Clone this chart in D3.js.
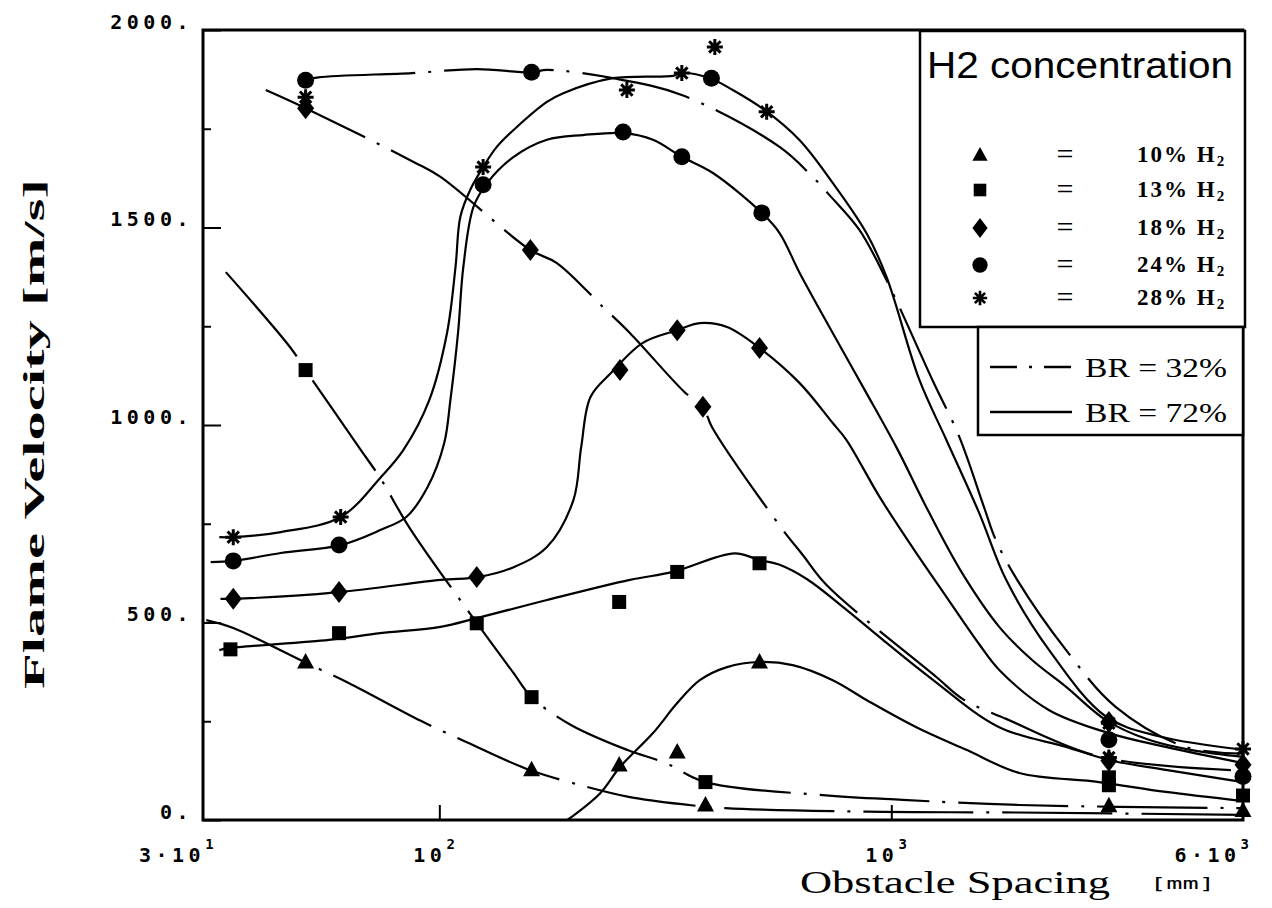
<!DOCTYPE html>
<html>
<head>
<meta charset="utf-8">
<script src="https://cdnjs.cloudflare.com/ajax/libs/d3/7.8.5/d3.min.js"></script>
<style>
  body { margin: 0; background: #fff; }
  svg { display: block; }
</style>
</head>
<body>
<svg width="1272" height="908"></svg>
<script>
// axis setup
const xDomain = [30, 6000];
const yDomain = [0, 2000];
const yMajorTicks = [0, 500, 1000, 1500, 2000];
const yMinorTicks = [250, 750, 1250, 1750];
const xTicks = [30, 100, 1000, 6000];
const xTickMant = ["3·10", "10", "10", "6·10"];
const xTickExp = ["1", "2", "3", "3"];

const h2Labels = ["10%", "13%", "18%", "24%", "28%"];
const brLabels = ["BR = 32%", "BR = 72%"];

// measured points [spacing mm, velocity m/s]
const tri10 = [[50.6, 400], [160, 127], [250, 139], [336, 172], [388, 38], [511, 400], [3030, 36], [6000, 24]];
const sq13 = [[34.5, 432], [50.6, 1139], [60, 473], [121, 498], [160, 311], [250, 552], [336, 628], [388, 96], [511, 650], [3030, 108], [3030, 88], [6000, 62]];
const dia18 = [[35, 560], [50.6, 1802], [60, 577], [121, 615], [159, 1443], [251, 1139], [336, 1240], [383, 1046], [511, 1195], [3030, 248], [3030, 150], [6000, 140]];
const circ24 = [[35, 656], [50.6, 1873], [60, 696], [125, 1608], [160, 1893], [255, 1742], [344, 1679], [400, 1878], [517, 1537], [3030, 203], [6000, 110]];
const star28 = [[35, 716], [50.6, 1830], [60.5, 767], [125, 1653], [260, 1848], [344, 1891], [407, 1957], [530, 1793], [3030, 245], [3030, 158], [6000, 180]];

// fitted curves, BR = 32% (dash-dot)
const c10_32 = [[30.5, 506], [35, 486], [50.9, 397], [63, 347], [91, 251], [115, 197], [158, 127], [212, 84], [264, 58], [344, 40], [430, 30], [882, 21], [1880, 19], [6000, 13]];
const c13_32 = [[33.7, 1387], [46.9, 1195], [50.6, 1139], [67, 937], [74, 866], [86, 739], [121, 499], [146, 372], [160, 311], [196, 240], [261, 177], [317, 144], [388, 96], [706, 63], [1060, 51], [1920, 38], [6000, 30]];
const c18_32 = [[41.3, 1848], [50.6, 1802], [87.7, 1666], [100.6, 1628], [159, 1443], [182, 1410], [230, 1299], [264, 1233], [349, 1083], [383, 1046], [401, 995], [569, 742], [637, 671], [719, 595], [1258, 362], [1440, 306], [1795, 256], [2900, 160], [6000, 125]];
const c24_32 = [[50.6, 1873], [54, 1880], [87, 1891], [121, 1901], [160, 1893], [173, 1899], [242, 1878], [345, 1835], [566, 1704], [670, 1628], [730, 1582], [850, 1494], [976, 1367], [1233, 1114], [1414, 970], [1606, 790], [1700, 711], [1899, 608], [2437, 430], [3140, 286], [4480, 185], [6000, 168]];

// fitted curves, BR = 72% (solid)
const c10_72 = [[192, 0], [227, 68], [251, 134], [297, 220], [336, 296], [377, 354], [433, 387], [511, 400], [605, 392], [742, 354], [881, 304], [1136, 235], [1471, 177], [1920, 119], [2881, 96], [4048, 71], [6000, 48]];
const c13_72 = [[32.6, 430], [34.2, 435], [57, 456], [74, 473], [100.6, 489], [121, 511], [173, 557], [264, 608], [329, 628], [450, 675], [511, 658], [566, 646], [650, 610], [796, 532], [942, 463], [1214, 362], [1733, 235], [2437, 185], [3030, 152], [4048, 127], [6000, 96]];
const c18_72 = [[32.8, 560], [35, 560], [60, 577], [100.6, 608], [122, 615], [146, 640], [173, 691], [198, 810], [206, 944], [216, 1071], [240, 1132], [282, 1208], [336, 1240], [377, 1258], [433, 1248], [511, 1195], [627, 1106], [742, 1005], [796, 962], [942, 818], [1113, 691], [1324, 565], [1565, 445], [1733, 380], [2235, 278], [3030, 220], [4048, 185], [6000, 144]];
const c24_72 = [[31.2, 653], [35, 656], [44.6, 676], [60.5, 696], [74, 734], [84.5, 767], [94.2, 843], [102.5, 954], [105.8, 1063], [110, 1233], [113, 1400], [119, 1552], [127.7, 1613], [145.8, 1678], [173, 1722], [208, 1734], [257, 1739], [297, 1722], [344, 1679], [403, 1638], [517, 1537], [566, 1486], [627, 1385], [742, 1233], [873, 1089], [1026, 944], [1214, 777], [1435, 625], [1733, 489], [2049, 405], [2437, 337], [2985, 253], [3714, 203], [4620, 177], [6000, 160]];
const c28_72 = [[32.6, 716], [35, 716], [44.6, 729], [60.5, 767], [74, 866], [83.3, 937], [95, 1063], [104, 1233], [108.6, 1400], [111.3, 1527], [117, 1595], [125, 1653], [134, 1704], [146, 1747], [173, 1818], [188, 1840], [242, 1878], [329, 1884], [344, 1891], [397, 1878], [446, 1848], [525, 1797], [627, 1721], [742, 1613], [881, 1486], [976, 1375], [1154, 1114], [1324, 962], [1565, 777], [1795, 608], [2235, 430], [2985, 262], [3909, 212], [6000, 178]];

const series = [
  { label: h2Labels[0], shape: "triangle", points: tri10, br32: c10_32, br72: c10_72 },
  { label: h2Labels[1], shape: "square", points: sq13, br32: c13_32, br72: c13_72 },
  { label: h2Labels[2], shape: "diamond", points: dia18, br32: c18_32, br72: c18_72 },
  { label: h2Labels[3], shape: "circle", points: circ24, br32: c24_32, br72: c24_72 },
  { label: h2Labels[4], shape: "star", points: star28, br32: null, br72: c28_72 }
];

const svg = d3.select("svg");
const plotLeft = 203, plotRight = 1243, plotTop = 30, plotBottom = 820;

const x = d3.scaleLog().domain(xDomain).range([plotLeft, plotRight]);
const y = d3.scaleLinear().domain(yDomain).range([plotBottom, plotTop]);

const monoFont = "'DejaVu Sans Mono', monospace";
const serifFont = "'Liberation Serif', 'DejaVu Serif', serif";

// y axis ticks (inside)
const yAxis = svg.append("g")
  .attr("transform", `translate(${plotLeft},0)`)
  .call(d3.axisLeft(y).tickValues(yMajorTicks).tickSize(-18).tickFormat(d => d + "."));
yAxis.select(".domain").remove();
yAxis.selectAll("line").attr("stroke", "#000").attr("stroke-width", 2);
yAxis.selectAll("text")
  .attr("x", -10).attr("dy", null).attr("y", -2)
  .attr("fill", "#000")
  .style("font-family", monoFont).style("font-size", "20px").style("font-weight", "bold")
  .style("letter-spacing", "4.5px");

const yMinor = svg.append("g")
  .attr("transform", `translate(${plotLeft},0)`)
  .call(d3.axisLeft(y).tickValues(yMinorTicks).tickSize(-8).tickFormat(""));
yMinor.select(".domain").remove();
yMinor.selectAll("line").attr("stroke", "#000").attr("stroke-width", 2);

// x axis ticks
const xAxis = svg.append("g")
  .attr("transform", `translate(0,${plotBottom})`)
  .call(d3.axisBottom(x).tickValues([100, 1000]).tickSize(-15).tickFormat(""));
xAxis.select(".domain").remove();
xAxis.selectAll("line").attr("stroke", "#000").attr("stroke-width", 2);

const xLabelOffset = [-64, -26, -26, 6];
const xLabelAnchor = ["start", "start", "start", "end"];
xTicks.forEach((t, i) => {
  const txt = svg.append("text")
    .attr("x", x(t) + xLabelOffset[i]).attr("y", 862)
    .attr("text-anchor", xLabelAnchor[i])
    .style("font-family", monoFont).style("font-size", "20px").style("font-weight", "bold");
  txt.append("tspan").text(xTickMant[i]).style("letter-spacing", "4.5px");
  txt.append("tspan").text(xTickExp[i]).attr("dy", -13).style("font-size", "14px");
});

// curves
const line = d3.line()
  .x(d => x(d[0]))
  .y(d => y(d[1]))
  .curve(d3.curveCatmullRom.alpha(0.5));

series.forEach(s => {
  if (s.br32) {
    svg.append("path").datum(s.br32)
      .attr("d", line).attr("fill", "none")
      .attr("stroke", "#000").attr("stroke-width", 2.2)
      .attr("stroke-dasharray", "110,13,3,13");
  }
  svg.append("path").datum(s.br72)
    .attr("d", line).attr("fill", "none")
    .attr("stroke", "#000").attr("stroke-width", 2.2);
});

// markers
function drawMarker(g, shape, k) {
  if (shape === "triangle") {
    g.append("path").attr("d", `M0,${-9 * k}L${8.5 * k},${6.5 * k}H${-8.5 * k}Z`).attr("fill", "#000");
  } else if (shape === "square") {
    g.append("rect").attr("x", -7 * k).attr("y", -7 * k).attr("width", 14 * k).attr("height", 14 * k).attr("fill", "#000");
  } else if (shape === "diamond") {
    g.append("path").attr("d", `M0,${-11 * k}L${8.5 * k},0L0,${11 * k}L${-8.5 * k},0Z`).attr("fill", "#000");
  } else if (shape === "circle") {
    g.append("circle").attr("r", 8.5 * k).attr("fill", "#000");
  } else if (shape === "star") {
    const a = 8 * k, b = 5.7 * k;
    g.append("path")
      .attr("d", `M0,${-a}V${a}M${-a},0H${a}M${-b},${-b}L${b},${b}M${-b},${b}L${b},${-b}`)
      .attr("stroke", "#000").attr("stroke-width", 3 * k).attr("fill", "none");
    g.append("circle").attr("r", 3.5 * k).attr("fill", "#000");
  }
}

series.forEach(s => {
  s.points.forEach(p => {
    const g = svg.append("g").attr("transform", `translate(${x(p[0])},${y(p[1])})`);
    drawMarker(g, s.shape, 1);
  });
});

// frame
svg.append("rect")
  .attr("x", plotLeft).attr("y", plotTop)
  .attr("width", plotRight - plotLeft).attr("height", plotBottom - plotTop)
  .attr("fill", "none").attr("stroke", "#000").attr("stroke-width", 3);

// legend: H2 concentration
const lg = svg.append("g");
lg.append("rect").attr("x", 920).attr("y", 31).attr("width", 325).attr("height", 296)
  .attr("fill", "#fff").attr("stroke", "#000").attr("stroke-width", 2.5);
lg.append("text").attr("x", 927).attr("y", 78)
  .attr("textLength", 306).attr("lengthAdjust", "spacingAndGlyphs")
  .style("font-family", "'Liberation Sans', Arial, sans-serif").style("font-size", "37px")
  .text("H2 concentration");

const rowY = [155, 190, 228, 265, 298];
series.forEach((s, i) => {
  const g = lg.append("g").attr("transform", `translate(980,${rowY[i]})`);
  drawMarker(g, s.shape, 0.9);
  lg.append("text").attr("x", 1065).attr("y", rowY[i] + 9)
    .attr("text-anchor", "middle")
    .style("font-family", serifFont).style("font-size", "30px")
    .text("=");
  const t = lg.append("text").attr("x", 1137).attr("y", rowY[i] + 7)
    .style("font-family", serifFont).style("font-size", "23px").style("font-weight", "bold")
    .style("letter-spacing", "2px");
  t.append("tspan").text(s.label + " H");
  t.append("tspan").text("2").attr("dy", 4).style("font-size", "15px");
});

// legend: blockage ratio
lg.append("rect").attr("x", 978).attr("y", 327).attr("width", 265).attr("height", 108)
  .attr("fill", "#fff").attr("stroke", "#000").attr("stroke-width", 2.5);
const brY = [367, 412];
const brDash = ["27,12,3,12", null];
brLabels.forEach((b, i) => {
  lg.append("line").attr("x1", 990).attr("x2", 1072).attr("y1", brY[i]).attr("y2", brY[i])
    .attr("stroke", "#000").attr("stroke-width", 2.5)
    .attr("stroke-dasharray", brDash[i]);
  lg.append("text").attr("x", 1085).attr("y", brY[i] + 10)
    .attr("textLength", 142).attr("lengthAdjust", "spacingAndGlyphs")
    .style("font-family", serifFont).style("font-size", "28px")
    .text(b);
});

// axis titles
svg.append("text")
  .attr("transform", "translate(44,434) rotate(-90)")
  .attr("text-anchor", "middle")
  .attr("textLength", 510).attr("lengthAdjust", "spacingAndGlyphs")
  .style("font-family", serifFont).style("font-size", "29px").style("font-weight", "bold")
  .text("Flame Velocity [m/s]");

svg.append("text")
  .attr("x", 800).attr("y", 893)
  .attr("textLength", 310).attr("lengthAdjust", "spacingAndGlyphs")
  .style("font-family", serifFont).style("font-size", "31px")
  .text("Obstacle Spacing");

svg.append("text")
  .attr("x", 1150).attr("y", 889)
  .attr("textLength", 65).attr("lengthAdjust", "spacingAndGlyphs")
  .style("font-family", monoFont).style("font-size", "15px")
  .text("[mm]");
</script>
</body>
</html>
